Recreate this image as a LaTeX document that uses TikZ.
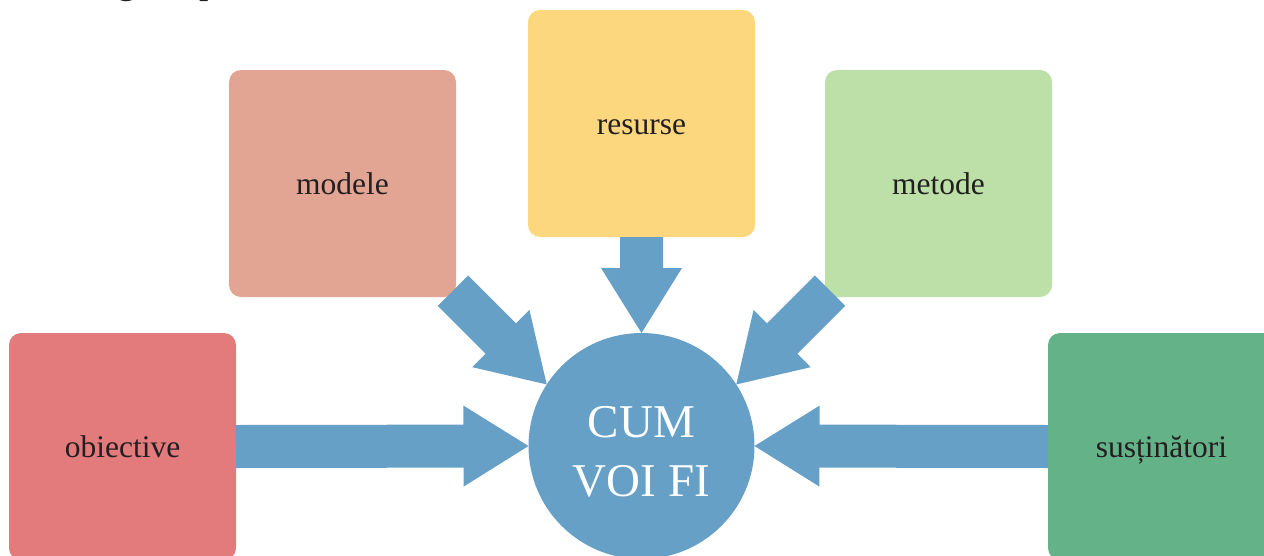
\documentclass[tikz,border=0pt]{standalone}
\usepackage{fontspec}
\setmainfont{Liberation Serif}
\usetikzlibrary{calc}
\definecolor{cblue}{HTML}{67A0C7}
\definecolor{cyellow}{HTML}{FCD77E}
\definecolor{csalmon}{HTML}{E2A594}
\definecolor{clgreen}{HTML}{BDE0A9}
\definecolor{cred}{HTML}{E37A7C}
\definecolor{cgreen}{HTML}{64B287}
\definecolor{ctext}{HTML}{231F20}
\tikzset{
  card/.style={rectangle, rounded corners=12pt, minimum width=227pt, minimum height=227pt,
    inner sep=0pt, outer sep=0pt, text=ctext, text height=28pt, text depth=6.8pt,
    font=\fontsize{31.5}{36}\selectfont},
  hub/.style={circle, fill=cblue, minimum size=226pt, inner sep=0pt, outer sep=0pt},
  hubtext/.style={inner sep=0pt, text=white, align=center, font=\fontsize{47}{59}\selectfont},
  blockarrow/.style={fill=cblue},
  fragment/.style={anchor=base west, inner sep=0pt, text=ctext, font=\fontsize{38}{44}\selectfont}
}
\newcommand\blockarr[2]{%
  \coordinate (bs) at (#1);
  \coordinate (bt) at (#2);
  \coordinate (bh) at ($(bt)!65pt!(bs)$);
  \fill[blockarrow] ($(bs)!21.5pt!90:(bt)$) -- ($(bh)!21.5pt!90:(bt)$) -- ($(bh)!40.5pt!90:(bt)$)
    -- (bt) -- ($(bh)!40.5pt!-90:(bt)$) -- ($(bh)!21.5pt!-90:(bt)$) -- ($(bs)!21.5pt!-90:(bt)$) -- cycle;}
\begin{document}
\begin{tikzpicture}[x=1pt,y=-1pt]
\useasboundingbox (0,0) rectangle (1264,555);
\clip (0,0) rectangle (1264,555);
\node[fragment] (frag) at (117,-6.5) {gică, p};
\node[card, fill=cyellow] (resurse) at (641.5,123.5) {resurse};
\node[card, fill=csalmon] (modele) at (342.5,183.5) {modele};
\node[card, fill=clgreen] (metode) at (938.5,183.5) {metode};
\node[card, fill=cred] (obiective) at (122.5,446.5) {obiective};
\node[card, fill=cgreen] (sustinatori) at (1161.5,446.5) {susținători};
\node[hub] (cum) at (641.5,446) {};
\node[hubtext] (cumtext) at (641.5,452) {CUM\\VOI FI};
\blockarr{obiective.east}{cum.west}
\blockarr{sustinatori.west}{cum.east}
\blockarr{resurse.south}{cum.north}
\blockarr{$(cum.147)+(-93.8,-93.8)$}{cum.147}
\blockarr{$(cum.33)+(93.8,-93.8)$}{cum.33}
\end{tikzpicture}
\end{document}
